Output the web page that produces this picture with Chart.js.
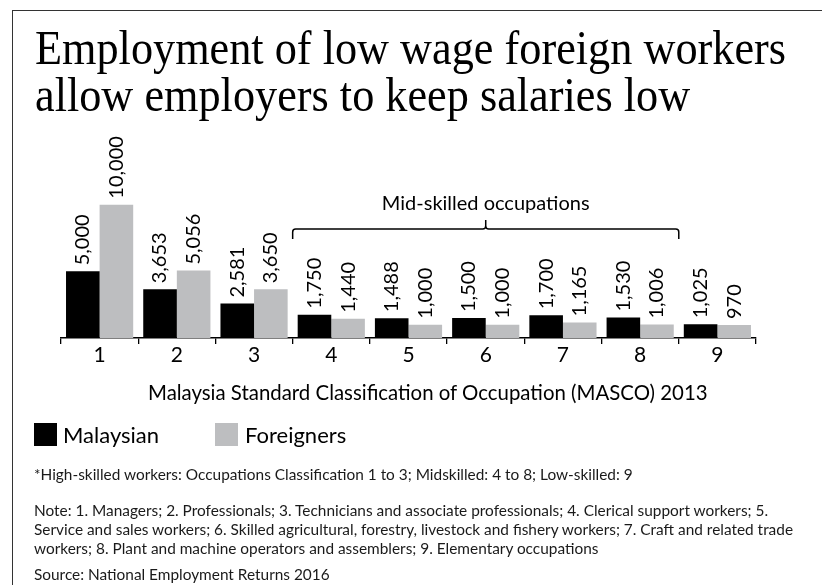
<!DOCTYPE html>
<html>
<head>
<meta charset="utf-8">
<script src="https://cdn.jsdelivr.net/npm/chart.js@4.4.1/dist/chart.umd.min.js"></script>
<style>
  html, body { margin:0; padding:0; background:#fff; }
  body { width:822px; height:585px; position:relative; overflow:hidden; font-family:Lato, sans-serif; color:#000; }
  #frame { position:absolute; left:12px; top:10px; width:830px; height:600px; border-top:1.5px solid #333; border-left:1.5px solid #333; }
  #chart { position:absolute; left:0; top:0; }
  .title { position:absolute; left:35px; font-family:"Liberation Serif", serif; font-size:48px; white-space:nowrap; transform-origin:0 0; line-height:1; }
  #t1 { top:24px; }
  #t2 { top:71px; }
  #axisTitle { position:absolute; left:148px; top:380px; font-size:20.4px; white-space:nowrap; }
  .legend { position:absolute; top:423px; font-size:22px; line-height:23px; }
  .sw { position:absolute; top:423px; width:23px; height:23px; }
  .notes { position:absolute; left:34px; font-size:15.4px; color:#1a1a1a; white-space:nowrap; line-height:19px; }
</style>
</head>
<body>
<div id="frame"></div>
<canvas id="chart" width="822" height="585"></canvas>
<div class="title" id="t1">Employment of low wage foreign workers</div>
<div class="title" id="t2">allow employers to keep salaries low</div>
<div id="axisTitle">Malaysia Standard Classification of Occupation (MASCO) 2013</div>
<div class="sw" style="left:34px; background:#000;"></div>
<div class="legend" style="left:63px;">Malaysian</div>
<div class="sw" style="left:215px; background:#bdbec0;"></div>
<div class="legend" style="left:245px;">Foreigners</div>
<div class="notes" style="top:465px;">*High-skilled workers: Occupations Classification 1 to 3; Midskilled: 4 to 8; Low-skilled: 9</div>
<div class="notes" style="top:501px;">Note: 1. Managers; 2. Professionals; 3. Technicians and associate professionals; 4. Clerical support workers; 5.<br>Service and sales workers; 6. Skilled agricultural, forestry, livestock and fishery workers; 7. Craft and related trade<br>workers; 8. Plant and machine operators and assemblers; 9. Elementary occupations</div>
<div class="notes" style="top:565px;">Source: National Employment Returns 2016</div>

<script>
// data
const categories = ['1','2','3','4','5','6','7','8','9'];
const malaysian  = [5000, 3653, 2581, 1750, 1488, 1500, 1700, 1530, 1025];
const foreigners = [10000, 5056, 3650, 1440, 1000, 1000, 1165, 1006, 970];
const seriesNames = ['Malaysian', 'Foreigners'];
const bracketLabel = 'Mid-skilled occupations';
const bracketFrom = 3; // category "4"
const bracketTo = 7;   // category "8"

// labels above bars + bracket
const annotations = {
  id: 'annotations',
  afterDatasetsDraw(chart) {
    const ctx = chart.ctx;
    ctx.save();
    ctx.fillStyle = '#000';
    ctx.font = '20px Lato';
    chart.data.datasets.forEach((ds, i) => {
      chart.getDatasetMeta(i).data.forEach((bar, j) => {
        ctx.save();
        ctx.translate(bar.x, bar.y - 6);
        ctx.rotate(-Math.PI / 2);
        ctx.textAlign = 'left';
        ctx.textBaseline = 'middle';
        ctx.fillText(ds.data[j].toLocaleString('en-US'), 0, 0);
        ctx.restore();
      });
    });

    // bracket for mid-skilled
    const xs = chart.scales.x;
    const half = (xs.getPixelForValue(1) - xs.getPixelForValue(0)) / 2;
    const x0 = xs.getPixelForValue(bracketFrom) - half;
    const x1 = xs.getPixelForValue(bracketTo) + half;
    const xm = (x0 + x1) / 2;
    const yb = 229, yEnd = 239, yTop = 220, r = 3;
    ctx.strokeStyle = '#000';
    ctx.lineWidth = 1.5;
    ctx.beginPath();
    ctx.moveTo(x0, yEnd);
    ctx.lineTo(x0, yb + r);
    ctx.quadraticCurveTo(x0, yb, x0 + r, yb);
    ctx.lineTo(xm - r, yb);
    ctx.quadraticCurveTo(xm, yb, xm, yb - r);
    ctx.lineTo(xm, yTop);
    ctx.moveTo(xm, yb - r);
    ctx.quadraticCurveTo(xm, yb, xm + r, yb);
    ctx.lineTo(x1 - r, yb);
    ctx.quadraticCurveTo(x1, yb, x1, yb + r);
    ctx.lineTo(x1, yEnd);
    ctx.stroke();

    ctx.textAlign = 'center';
    ctx.textBaseline = 'alphabetic';
    ctx.fillText(bracketLabel, xm, 210);
    ctx.restore();
  }
};

new Chart(document.getElementById('chart'), {
  type: 'bar',
  data: {
    labels: categories,
    datasets: [
      { label: seriesNames[0], data: malaysian, backgroundColor: '#000' },
      { label: seriesNames[1], data: foreigners, backgroundColor: '#bdbec0' }
    ]
  },
  options: {
    responsive: false,
    animation: false,
    events: [],
    layout: { padding: { left: 61, right: 66, top: 138, bottom: 205 } },
    datasets: { bar: { categoryPercentage: 0.87, barPercentage: 1, borderWidth: 0 } },
    plugins: { legend: { display: false }, tooltip: { enabled: false } },
    scales: {
      x: {
        afterFit(scale) { scale.height = 42; },
        grid: { offset: true, drawOnChartArea: false, tickLength: 6, color: '#000', lineWidth: 1.3 },
        border: { display: true, color: '#000', width: 1.5 },
        ticks: { color: '#000', padding: -1, font: { family: 'Lato', size: 21 } }
      },
      y: { display: false, min: 0, max: 15000 }
    }
  },
  plugins: [annotations]
});

// fit title lines to the reference widths
document.fonts.ready.then(() => {
  const t1 = document.getElementById('t1');
  const t2 = document.getElementById('t2');
  const s = 751 / t1.getBoundingClientRect().width;
  t1.style.transform = 'scaleX(' + s + ')';
  t2.style.transform = 'scaleX(' + s + ')';
});
</script>
</body>
</html>
